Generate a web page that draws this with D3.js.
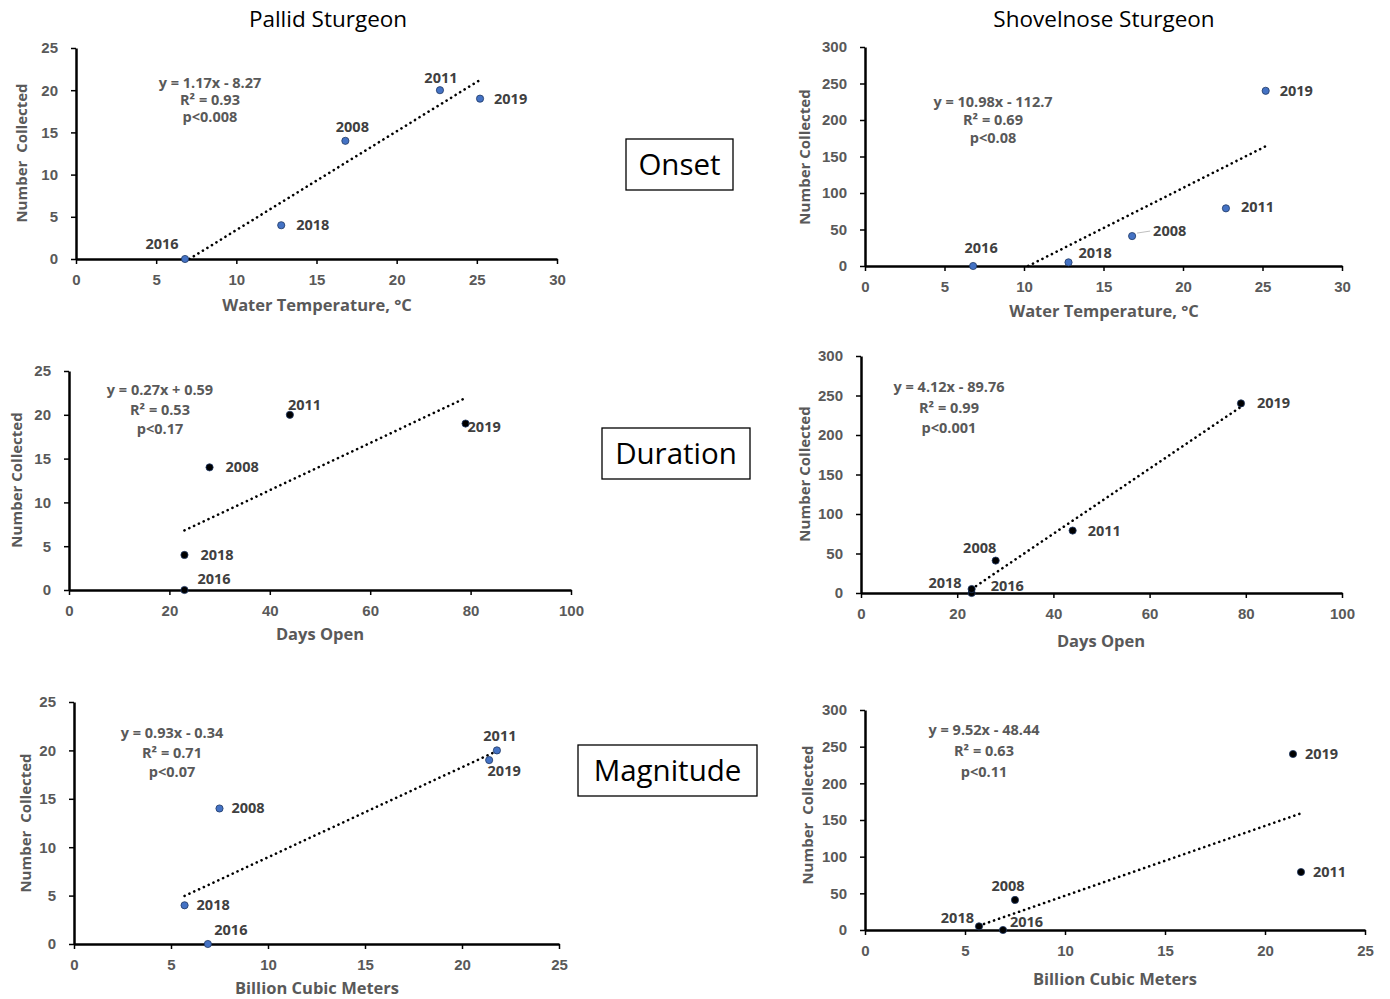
<!DOCTYPE html>
<html>
<head>
<meta charset="utf-8">
<script src="https://cdn.jsdelivr.net/npm/d3@7"></script>
<style>
  body { margin: 0; background: #fff; }
  svg { display: block; font-family: "Open Sans", sans-serif; }
  .axis path, .axis line { stroke: #000; }
  .axis path { stroke-width: 2.5; }
  .axis line { stroke-width: 1.5; }
  .axis text { fill: #595959; font-size: 15px; font-weight: 700; }
  .atitle { fill: #595959; font-size: 16.5px; font-weight: 700; }
  .ytitle { fill: #595959; font-size: 15px; font-weight: 700; white-space: pre; }
  .eq { fill: #595959; font-size: 14.5px; font-weight: 700; }
  .plabel { fill: #404040; font-size: 14.5px; font-weight: 700; }
</style>
</head>
<body>
<svg id="chart" width="1390" height="999"></svg>
<script>
// data
var years = ['2008', '2011', '2016', '2018', '2019'];
var waterTemp = [16.8, 22.7, 6.8, 12.8, 25.2];
var daysOpen = [28, 44, 23, 23, 79];
var billionCubicMeters = [7.5, 21.8, 6.9, 5.7, 21.4];
var pallidCount = [14, 20, 0, 4, 19];
var shovelnoseCount = [41, 79, 0, 5, 240];

var columnTitles = ['Pallid Sturgeon', 'Shovelnose Sturgeon'];
var rowTitles = ['Onset', 'Duration', 'Magnitude'];
var xTitles = ['Water Temperature, °C', 'Days Open', 'Billion Cubic Meters'];
var yTitles = ['Number  Collected', 'Number Collected', 'Number Collected',
               'Number Collected', 'Number  Collected', 'Number  Collected'];
var xTickValues = [[0, 5, 10, 15, 20, 25, 30], [0, 20, 40, 60, 80, 100], [0, 5, 10, 15, 20, 25]];
var pallidTicks = [0, 5, 10, 15, 20, 25];
var shovelTicks = [0, 50, 100, 150, 200, 250, 300];

// trend coefficients and stats, as printed on the chart
var slopes = [1.17, 10.98, 0.27, 4.12, 0.93, 9.52];
var intercepts = [-8.27, -112.7, 0.59, -89.76, -0.34, -48.44];
var equations = ['y = 1.17x - 8.27', 'y = 10.98x - 112.7', 'y = 0.27x + 0.59',
                 'y = 4.12x - 89.76', 'y = 0.93x - 0.34', 'y = 9.52x - 48.44'];
var rSquared = ['R² = 0.93', 'R² = 0.69', 'R² = 0.53', 'R² = 0.99', 'R² = 0.71', 'R² = 0.63'];
var pValues = ['p<0.008', 'p<0.08', 'p<0.17', 'p<0.001', 'p<0.07', 'p<0.11'];

var xSeries = [waterTemp, waterTemp, daysOpen, daysOpen, billionCubicMeters, billionCubicMeters];
var ySeries = [pallidCount, shovelnoseCount, pallidCount, shovelnoseCount, pallidCount, shovelnoseCount];

// layout: plot box in px [left, right, top, bottom], equation anchor, y label, x title
var layout = [
  { box: [76, 557, 48, 259], eq: [210, 83, 17], ylab: [22, 153], xt: [317, 305], fill: '#4472c4' },
  { box: [865, 1342, 47, 266], eq: [993, 102, 18], ylab: [805, 157], xt: [1104, 311], fill: '#4472c4' },
  { box: [69, 571, 371, 590], eq: [160, 390, 19.5], ylab: [17, 480], xt: [320, 634], fill: '#000' },
  { box: [861, 1342, 356, 593], eq: [949, 387, 20.5], ylab: [805, 474], xt: [1101, 641], fill: '#000' },
  { box: [74, 559, 702, 944], eq: [172, 733, 19.5], ylab: [26, 823], xt: [317, 988], fill: '#4472c4' },
  { box: [865, 1365, 710, 930], eq: [984, 730, 21], ylab: [808, 815], xt: [1115, 979], fill: '#000' }
];

// label offsets per panel, order follows years: [dx, dy, anchor]
var labelPlacement = [
  [[7, -9, 'middle'], [1, -7, 'middle'], [-23, -10, 'middle'], [15, 5, 'start'], [14, 5, 'start']],
  [[21, 0, 'start'], [15, 4, 'start'], [8, -13, 'middle'], [10, -4, 'start'], [14, 5, 'start']],
  [[16, 5, 'start'], [-2, -5, 'start'], [13, -6, 'start'], [16, 5, 'start'], [2, 8, 'start']],
  [[-16, -8, 'middle'], [15, 5, 'start'], [19, -2, 'start'], [-10, -1, 'end'], [16, 5, 'start']],
  [[12, 5, 'start'], [3, -9, 'middle'], [23, -9, 'middle'], [12, 5, 'start'], [15, 16, 'middle']],
  [[-7, -9, 'middle'], [12, 5, 'start'], [7, -3, 'start'], [-5, -3, 'end'], [12, 5, 'start']]
];

var svg = d3.select('#chart');

// column titles
svg.selectAll('.ctitle')
  .data(columnTitles)
  .enter().append('text')
  .attr('x', (d, i) => i ? 1104 : 328)
  .attr('y', 27)
  .attr('text-anchor', 'middle')
  .style('font-size', '22.5px')
  .style('fill', '#000')
  .text(d => d);

// row titles in boxes
var rowBoxes = [[626, 139, 107, 51], [602, 428, 148, 51], [578, 745, 179, 51]];
rowTitles.forEach((t, i) => {
  let b = rowBoxes[i];
  svg.append('rect')
    .attr('x', b[0]).attr('y', b[1]).attr('width', b[2]).attr('height', b[3])
    .attr('fill', '#fff').attr('stroke', '#000').attr('stroke-width', 1.3);
  svg.append('text')
    .attr('x', b[0] + b[2] / 2).attr('y', b[1] + b[3] / 2 + 10)
    .attr('text-anchor', 'middle')
    .style('font-size', '29.5px')
    .style('fill', '#000')
    .text(t);
});

layout.forEach((L, i) => {
  let row = Math.floor(i / 2);
  let isShovel = i % 2 == 1;
  let xt = xTickValues[row];
  let yt = isShovel ? shovelTicks : pallidTicks;

  let x = d3.scaleLinear().domain([xt[0], xt[xt.length - 1]]).range([L.box[0], L.box[1]]);
  let y = d3.scaleLinear().domain([yt[0], yt[yt.length - 1]]).range([L.box[3], L.box[2]]);

  let g = svg.append('g');

  g.append('g')
    .attr('class', 'axis')
    .attr('transform', `translate(0 ${L.box[3]})`)
    .call(d3.axisBottom(x).tickValues(xt).tickSize(5).tickSizeOuter(0).tickPadding(10))
    .call(s => s.selectAll('text').attr('dy', '0.75em'));

  g.append('g')
    .attr('class', 'axis')
    .attr('transform', `translate(${L.box[0]} 0)`)
    .call(d3.axisLeft(y).tickValues(yt).tickSize(5).tickSizeOuter(0).tickPadding(13));

  // axis titles
  g.append('text')
    .attr('class', 'atitle')
    .attr('x', L.xt[0]).attr('y', L.xt[1] + 6)
    .attr('text-anchor', 'middle')
    .text(xTitles[row]);

  g.append('text')
    .attr('class', 'ytitle')
    .attr('transform', `translate(${L.ylab[0] + 5} ${L.ylab[1]}) rotate(-90)`)
    .attr('text-anchor', 'middle')
    .text(yTitles[i]);

  // trendline (clipped at y = 0 as in the source)
  let xs = xSeries[i], ys = ySeries[i];
  let m = slopes[i], b = intercepts[i];
  let xStart = Math.max(d3.min(xs), -b / m);
  let xEnd = d3.max(xs);
  g.append('line')
    .attr('x1', x(xStart)).attr('y1', y(m * xStart + b))
    .attr('x2', x(xEnd)).attr('y2', y(m * xEnd + b))
    .attr('stroke', '#000')
    .attr('stroke-width', 2.6)
    .attr('stroke-linecap', 'round')
    .attr('stroke-dasharray', '0.1 5.2');

  // points
  let pts = years.map((yr, k) => ({ yr, x: xs[k], y: ys[k], lp: labelPlacement[i][k] }));

  g.selectAll('circle')
    .data(pts)
    .enter().append('circle')
    .attr('cx', d => x(d.x))
    .attr('cy', d => y(d.y))
    .attr('r', 3.6)
    .attr('fill', L.fill)
    .attr('stroke', L.fill == '#000' ? '#1f3864' : '#203864')
    .attr('stroke-width', 0.8);

  g.selectAll('.plabel')
    .data(pts)
    .enter().append('text')
    .attr('class', 'plabel')
    .attr('x', d => x(d.x) + d.lp[0])
    .attr('y', d => y(d.y) + d.lp[1])
    .attr('text-anchor', d => d.lp[2])
    .text(d => d.yr);

  // leader line for 2008 on shovelnose onset
  if (i == 1) {
    g.append('line')
      .attr('x1', x(xs[0]) + 5).attr('y1', y(ys[0]) - 3)
      .attr('x2', x(xs[0]) + 18).attr('y2', y(ys[0]) - 5)
      .attr('stroke', '#bfbfbf').attr('stroke-width', 1);
  }

  // equation block
  [equations[i], rSquared[i], pValues[i]].forEach((t, k) => {
    g.append('text')
      .attr('class', 'eq')
      .attr('x', L.eq[0]).attr('y', L.eq[1] + 5 + k * L.eq[2])
      .attr('text-anchor', 'middle')
      .text(t);
  });
});
</script>
</body>
</html>
